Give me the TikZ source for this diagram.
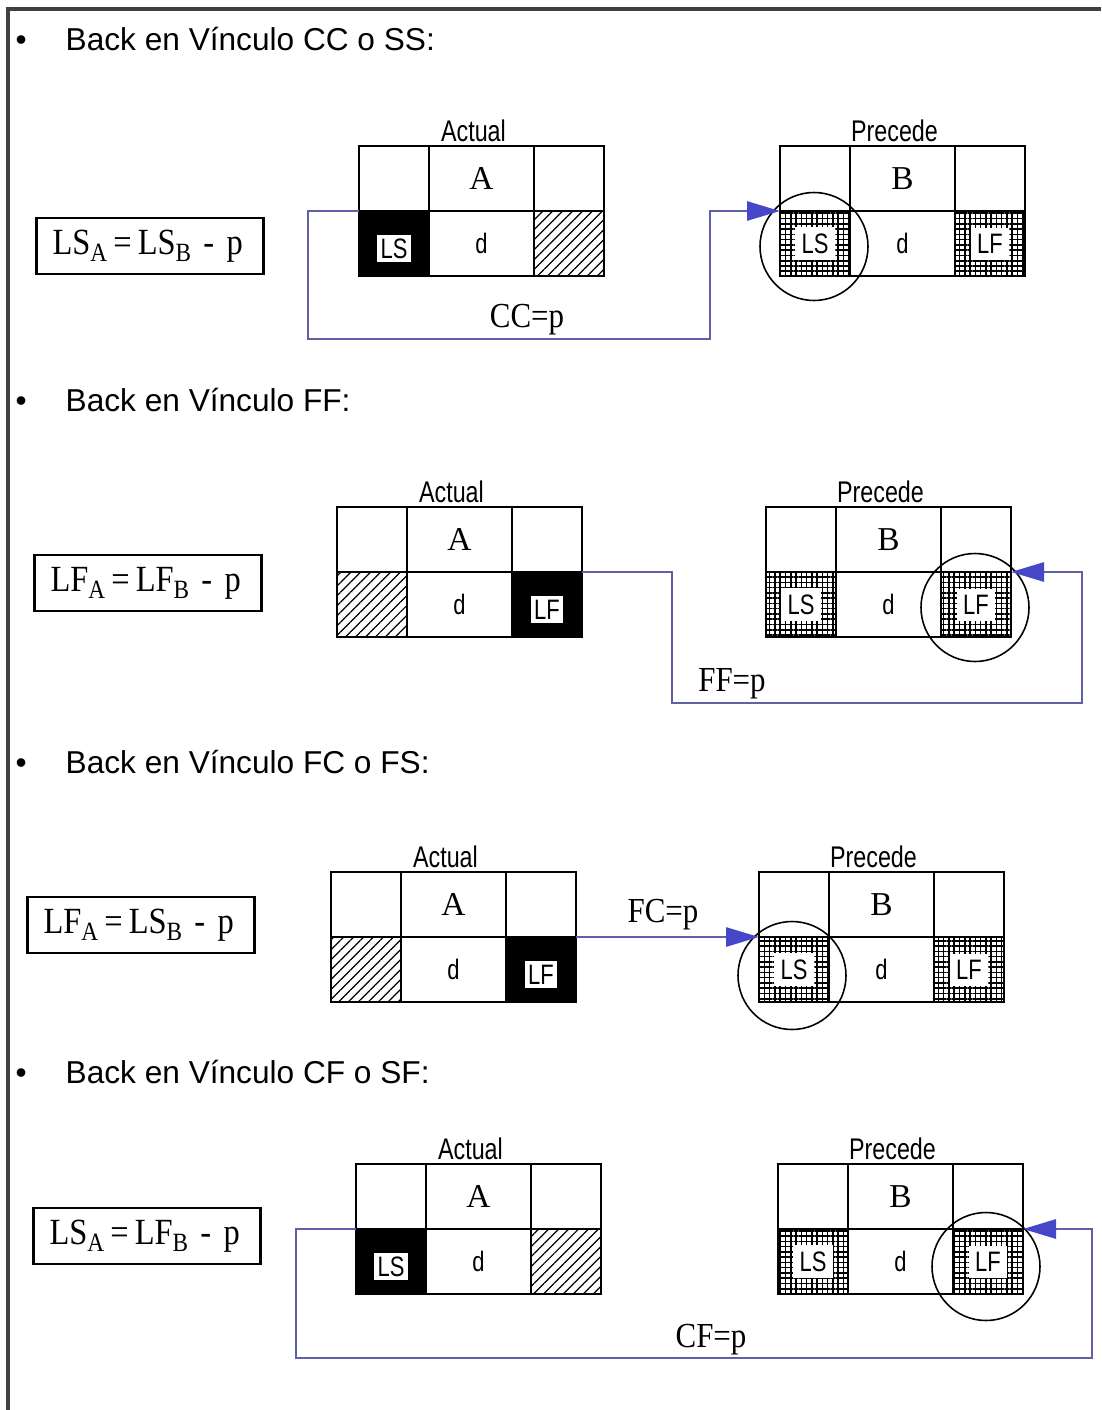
\documentclass[tikz,border=0pt]{standalone}
\usepackage{fontspec}
\setmainfont{Liberation Sans}
\newfontfamily\tms{Liberation Serif}
\newfontfamily\tmsangosta[FakeStretch=0.88]{Liberation Serif}
\newfontfamily\angosta[FakeStretch=0.78]{Liberation Sans}
\usetikzlibrary{positioning,patterns.meta,arrows.meta}
\definecolor{azul}{RGB}{96,96,170}
\definecolor{punta}{RGB}{70,70,200}

\newcommand{\subi}[1]{\raisebox{-0.45ex}{\fontsize{7.5}{8}\selectfont #1}}

% tabla de actividad: nombre, esquina sup. izq., titulo, letra, celda inf. izq., celda inf. der.
\newcommand{\tabla}[6]{%
  \node[lado, anchor=north west] (#1-nw) at (#2) {};
  \node[medio, right=0pt of #1-nw, font=\tms\fontsize{9.5}{10}\selectfont] (#1-n) {#4};
  \node[lado, right=0pt of #1-n] (#1-ne) {};
  \node[lado, below=0pt of #1-nw, #5] (#1-sw) {};
  \node[medio, below=0pt of #1-n, font=\angosta\fontsize{8}{8}\selectfont] (#1-s) {d};
  \node[lado, below=0pt of #1-ne, #6] (#1-se) {};
  \node[titulo, above=0.4mm of #1-n, xshift=-0.8mm] (#1-t) {#3};
}

\tikzset{
  lado/.style={draw, line width=0.6pt, minimum width=7mm, minimum height=6.5mm, inner sep=0pt, outer sep=0pt},
  medio/.style={lado, minimum width=10.5mm},
  titulo/.style={font=\angosta\fontsize{8.5}{9}\selectfont, inner sep=0pt},
  blanca/.style={fill=white, font=\angosta\fontsize{8}{8}\selectfont, inner sep=1pt},
  negro/.style={fill=black, label={[blanca, yshift=-0.5mm]center:#1}},
  rayado/.style={pattern={Lines[angle=45, distance=2pt, line width=0.35pt]}},
  cuadro/.style={pattern={Hatch[distance=1.5pt, line width=0.45pt]}, label={[blanca, inner sep=1.8pt]center:#1}},
  circulo/.style={draw, circle, line width=0.45pt, minimum size=10.8mm, inner sep=0pt},
  formula/.style={draw, line width=0.6pt, font=\tmsangosta\fontsize{10.5}{11}\selectfont, minimum height=4.4mm, text width=19.5mm, inner xsep=1.6mm, align=left},
  vineta/.style={font=\fontsize{9}{11}\selectfont, anchor=west, inner sep=0pt},
  etiqueta/.style={font=\tmsangosta\fontsize{10}{11}\selectfont, inner sep=0pt},
  enlace/.style={draw=azul, line width=0.8pt, -{Triangle[length=3.3mm, width=1.9mm, color=punta]}},
  marco/.style={draw=black!75, line width=1pt}
}

\begin{document}
\begin{tikzpicture}[x=0.1mm, y=-0.1mm]
\useasboundingbox (0,0) rectangle (1101,1410);
\draw[marco] (1101,9) -- (8,9) -- (8,1410);

% CC o SS
\node[vineta] (s1) at (15,39) {\makebox[5mm][l]{\textbullet}Back en Vínculo CC o SS:};
\node[formula] (f1) at (150,246) {LS\subi{A}\,=\,LS\subi{B} - p};
\tabla{act1}{359,146}{Actual}{A}{negro=LS}{rayado}
\tabla{pre1}{780,146}{Precede}{B}{cuadro=LS}{cuadro=LF}
\node[circulo] (c1) at ([shift={(-1,3)}]pre1-sw.center) {};
\coordinate (v1a) at (308,339);
\coordinate (v1b) at (710,339);
\draw[enlace] (act1-sw.north west) -| (v1a) -- (v1b) |- (pre1-sw.north west);
\node[etiqueta] (e1) at (527,320) {CC=p};

% FF
\node[vineta] (s2) at (15,400) {\makebox[5mm][l]{\textbullet}Back en Vínculo FF:};
\node[formula] (f2) at (148,583) {LF\subi{A}\,=\,LF\subi{B} - p};
\tabla{act2}{337,507}{Actual}{A}{rayado}{negro=LF}
\tabla{pre2}{766,507}{Precede}{B}{cuadro=LS}{cuadro=LF}
\node[circulo] (c2) at ([shift={(-1,3)}]pre2-se.center) {};
\coordinate (v2a) at (672,703);
\coordinate (v2b) at (1082,703);
\draw[enlace] (act2-se.north east) -| (v2a) -- (v2b) |- (pre2-se.north east);
\node[etiqueta] (e2) at (732,684) {FF=p};

% FC o FS
\node[vineta] (s3) at (15,762) {\makebox[5mm][l]{\textbullet}Back en Vínculo FC o FS:};
\node[formula] (f3) at (141,925) {LF\subi{A}\,=\,LS\subi{B} - p};
\tabla{act3}{331,872}{Actual}{A}{rayado}{negro=LF}
\tabla{pre3}{759,872}{Precede}{B}{cuadro=LS}{cuadro=LF}
\node[circulo] (c3) at ([shift={(-2,6)}]pre3-sw.center) {};
\draw[enlace] (act3-se.north east) -- (pre3-sw.north west);
\node[etiqueta] (e3) at (663,915) {FC=p};

% CF o SF
\node[vineta] (s4) at (15,1072) {\makebox[5mm][l]{\textbullet}Back en Vínculo CF o SF:};
\node[formula] (f4) at (147,1236) {LS\subi{A}\,=\,LF\subi{B} - p};
\tabla{act4}{356,1164}{Actual}{A}{negro=LS}{rayado}
\tabla{pre4}{778,1164}{Precede}{B}{cuadro=LS}{cuadro=LF}
\node[circulo] (c4) at ([shift={(-2,5)}]pre4-se.center) {};
\coordinate (v4a) at (296,1358);
\coordinate (v4b) at (1092,1358);
\draw[enlace] (act4-sw.north west) -| (v4a) -- (v4b) |- (pre4-se.north east);
\node[etiqueta] (e4) at (711,1340) {CF=p};
\end{tikzpicture}
\end{document}
